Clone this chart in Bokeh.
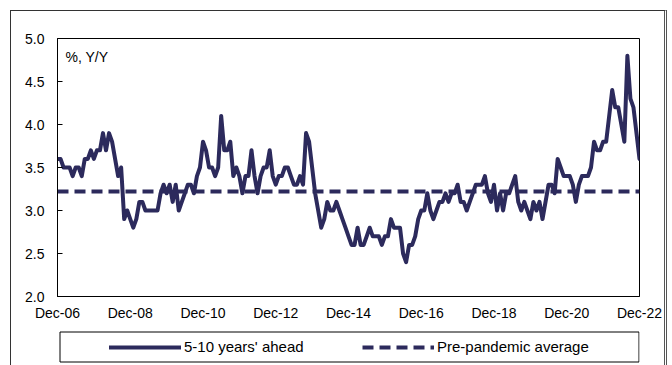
from bokeh.plotting import figure
from bokeh.layouts import column
from bokeh.models import (Range1d, FixedTicker, Legend, LegendItem, Label,
                          PrintfTickFormatter, BoxAnnotation)
from bokeh.embed import file_html
from bokeh.resources import INLINE

# Monthly 5-10 years' ahead inflation expectations, Dec-06 .. Dec-22 (%, Y/Y)
expect_5_10y = [
    3.6, 3.6, 3.5, 3.5, 3.5, 3.4, 3.5, 3.5, 3.4, 3.6, 3.6, 3.7,
    3.6, 3.7, 3.7, 3.9, 3.7, 3.9, 3.8, 3.6, 3.4, 3.5, 2.9, 3.0,
    2.9, 2.8, 2.9, 3.1, 3.1, 3.0, 3.0, 3.0, 3.0, 3.0, 3.2, 3.3,
    3.2, 3.3, 3.1, 3.3, 3.0, 3.1, 3.2, 3.3, 3.3, 3.2, 3.4, 3.5,
    3.8, 3.7, 3.5, 3.5, 3.4, 3.5, 4.1, 3.7, 3.7, 3.8, 3.4, 3.5,
    3.4, 3.2, 3.4, 3.4, 3.7, 3.4, 3.2, 3.4, 3.5, 3.5, 3.7, 3.4,
    3.3, 3.4, 3.4, 3.5, 3.5, 3.4, 3.3, 3.3, 3.4, 3.3, 3.9, 3.8,
    3.5, 3.2, 3.0, 2.8, 2.9, 3.1, 3.0, 3.0, 3.1, 3.0, 2.9, 2.8,
    2.7, 2.6, 2.6, 2.8, 2.6, 2.6, 2.7, 2.8, 2.7, 2.7, 2.7, 2.6,
    2.7, 2.7, 2.9, 2.8, 2.8, 2.8, 2.5, 2.4, 2.6, 2.6, 2.7, 2.9,
    3.0, 3.0, 3.2, 3.0, 2.9, 3.0, 3.1, 3.1, 3.2, 3.1, 3.2, 3.2,
    3.3, 3.1, 3.1, 3.0, 3.1, 3.2, 3.3, 3.3, 3.3, 3.4, 3.2, 3.1,
    3.3, 3.0, 3.2, 3.0, 3.2, 3.2, 3.3, 3.4, 3.1, 3.0, 3.1, 3.0,
    2.9, 3.1, 3.0, 3.1, 2.9, 3.1, 3.3, 3.3, 3.2, 3.6, 3.5, 3.4,
    3.4, 3.4, 3.3, 3.1, 3.3, 3.4, 3.4, 3.4, 3.5, 3.8, 3.7, 3.7,
    3.8, 3.8, 4.1, 4.4, 4.2, 4.2, 4.0, 3.8, 4.8, 4.3, 4.2, 3.9,
    3.6,
]
month_index = list(range(len(expect_5_10y)))
pre_pandemic_avg = 3.22

tick_labels = ["Dec-06", "Dec-08", "Dec-10", "Dec-12", "Dec-14",
               "Dec-16", "Dec-18", "Dec-20", "Dec-22"]
tick_months = [24 * i for i in range(len(tick_labels))]
y_ticks = [2.0, 2.5, 3.0, 3.5, 4.0, 4.5, 5.0]

series_names = ["5-10 years' ahead", "Pre-pandemic average"]

NAVY = "#2C2A5C"
FONT = "Liberation Sans"
SOLID = dict(line_color=NAVY, line_width=4, line_join="round", line_cap="round")
DASHED = dict(line_color=NAVY, line_width=4, line_dash="11 6")

# ---------------- main chart ----------------
p = figure(width=653, height=312, output_backend="svg", toolbar_location=None,
           x_range=Range1d(month_index[0], month_index[-1]),
           y_range=Range1d(2.0, 5.0),
           min_border_left=46, min_border_right=25,
           min_border_top=27, min_border_bottom=25)
p.background_fill_color = "white"
p.border_fill_color = "white"
p.outline_line_color = "black"
p.outline_line_width = 1
p.xgrid.visible = False
p.ygrid.visible = False

p.line(month_index, expect_5_10y, **SOLID)
p.line([month_index[0], month_index[-1]], [pre_pandemic_avg] * 2, **DASHED)

xa = p.xaxis[0]
xa.ticker = FixedTicker(ticks=tick_months)
xa.major_label_overrides = {m: lab for m, lab in zip(tick_months, tick_labels)}
xa.major_tick_in = 0
xa.major_tick_out = 0
xa.minor_tick_in = 0
xa.minor_tick_out = 0
xa.major_label_standoff = 8
xa.major_label_text_font = FONT
xa.major_label_text_font_size = "14px"
xa.major_label_text_color = "black"
xa.axis_line_color = "black"

ya = p.yaxis[0]
ya.ticker = FixedTicker(ticks=y_ticks)
ya.formatter = PrintfTickFormatter(format="%.1f")
ya.major_tick_in = 5
ya.major_tick_out = 0
ya.minor_tick_in = 0
ya.minor_tick_out = 0
ya.major_tick_line_color = "black"
ya.major_label_standoff = 13
ya.major_label_text_font = FONT
ya.major_label_text_font_size = "14px"
ya.major_label_text_color = "black"
ya.axis_line_color = "black"

unit_label = Label(x=8, y=248, x_units="screen", y_units="screen",
                   text="%, Y/Y", text_font=FONT, text_font_size="14px",
                   text_color="black", text_baseline="top")
p.add_layout(unit_label)

# ---------------- legend strip (frame aligned with the chart frame) ----------------
# data coordinates of this strip are page pixels: x 57..639, y 323..365
leg = figure(width=653, height=42, output_backend="svg", toolbar_location=None,
             x_range=Range1d(57, 639), y_range=Range1d(365, 323),
             x_axis_location=None, y_axis_location=None,
             min_border_left=46, min_border_right=25,
             min_border_top=0, min_border_bottom=0)
leg.outline_line_color = None
leg.background_fill_color = "white"
leg.border_fill_color = "white"
leg.grid.visible = False

nan = float("nan")
sw_solid = leg.line([nan], [nan], **SOLID)
sw_dash = leg.line([nan], [nan], **DASHED)

leg.add_layout(BoxAnnotation(left=59.5, right=638.5, top=331.5, bottom=361.5,
                             fill_alpha=0, line_color="black", line_width=1,
                             line_alpha=1.0, line_dash="solid"))

legend = Legend(items=[LegendItem(label=series_names[0], renderers=[sw_solid]),
                       LegendItem(label=series_names[1], renderers=[sw_dash])],
                orientation="horizontal", location=(47, 3.5),
                padding=5, spacing=48, glyph_width=72, glyph_height=20,
                label_standoff=3, label_width=130,
                label_text_font=FONT, label_text_font_size="15px",
                label_text_color="black", border_line_alpha=0,
                background_fill_alpha=0, margin=0)
leg.add_layout(legend)

layout = column(p, leg, spacing=0)
layout.styles = {"margin-left": "10px", "margin-top": "10px",
                 "border-left": "1px solid #333333",
                 "border-top": "1px solid #333333",
                 "border-right": "3px double #555555"}

open("out.html", "w").write(file_html(layout, INLINE))
